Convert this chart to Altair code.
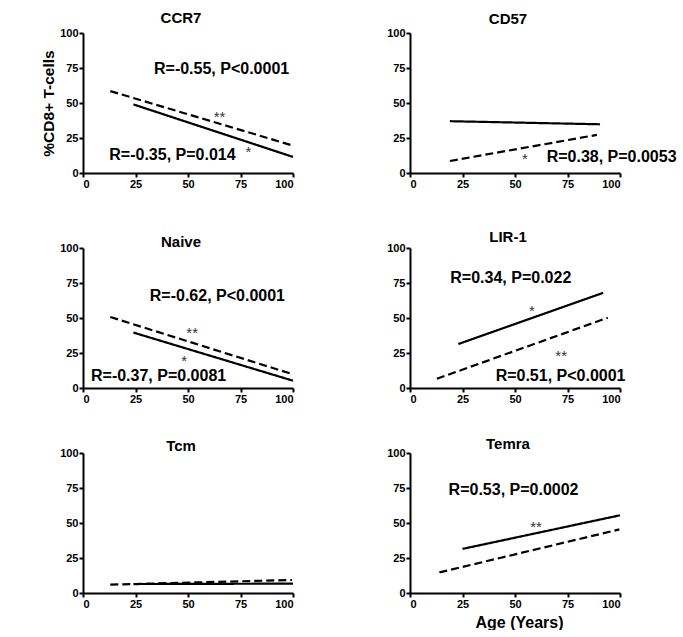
import altair as alt
import pandas as pd

FONT = "Liberation Sans"

# Panel names (in reading order)
panels = ["CCR7", "CD57", "Naive", "LIR-1", "Tcm", "Temra"]

# Regression line endpoints (Age in years, %CD8+ T-cells)
solid_x0 = [24, 19, 24, 23, 24, 25]
solid_y0 = [49, 37, 39.6, 31.4, 6.4, 31.5]
solid_x1 = [100, 90.5, 100, 92, 100, 100]
solid_y1 = [11.5, 34.8, 5.2, 68, 6.7, 55.5]

dash_x0 = [13, 19, 13, 12.8, 13, 14]
dash_y0 = [58.5, 8.6, 50.7, 6.6, 6, 14.7]
dash_x1 = [99, 89, 99.5, 94.2, 99.5, 99.7]
dash_y1 = [20, 27.2, 10, 50.2, 9.3, 45.4]

# Statistics annotations
stat_panel = ["CCR7", "CCR7", "CD57", "Naive", "Naive", "LIR-1", "LIR-1", "Temra"]
stat_text = ["R=-0.55, P<0.0001", "R=-0.35, P=0.014", "R=0.38, P=0.0053",
             "R=-0.62, P<0.0001", "R=-0.37, P=0.0081", "R=0.34, P=0.022",
             "R=0.51, P<0.0001", "R=0.53, P=0.0002"]
stat_x = [66, 42.6, 96, 64, 36, 48, 71.7, 49.3]
stat_y = [74, 13, 11.5, 65.5, 8.7, 78.7, 8.3, 73.6]

# Significance stars
star_panel = ["CCR7", "CCR7", "CD57", "Naive", "Naive", "LIR-1", "LIR-1", "Temra"]
star_text = ["**", "*", "*", "**", "*", "*", "**", "**"]
star_x = [65, 78.8, 54.7, 52, 48.2, 58, 72, 60]
star_y = [43, 17.7, 13, 42.5, 22.4, 57.8, 25.5, 50]

# Title offsets per panel
title_offset = [1, 0, -8, -3, -7, -5]

tick_vals = [0, 25, 50, 75, 100]
Y_TITLE = "%CD8+ T-cells"

rows = []
for i, p in enumerate(panels):
    rows.append(dict(panel=p, style="solid", age=solid_x0[i], pct=solid_y0[i]))
    rows.append(dict(panel=p, style="solid", age=solid_x1[i], pct=solid_y1[i]))
    rows.append(dict(panel=p, style="dashed", age=dash_x0[i], pct=dash_y0[i]))
    rows.append(dict(panel=p, style="dashed", age=dash_x1[i], pct=dash_y1[i]))
lines_df = pd.DataFrame(rows)
stats_df = pd.DataFrame(dict(panel=stat_panel, label=stat_text, age=stat_x, pct=stat_y))
stars_df = pd.DataFrame(dict(panel=star_panel, label=star_text, age=star_x, pct=star_y))

W, H = 210, 140


def make_panel(i):
    p = panels[i]
    xaxis_kw = dict(values=tick_vals)
    if p == "Temra":
        xaxis_kw.update(title="Age (Years)", titleFontSize=16, titlePadding=5, titleX=109)
    else:
        xaxis_kw.update(title="")
    yaxis_kw = dict(values=tick_vals)
    if i % 2 == 0:
        # left column: same title everywhere so the rows line up; shown only on CCR7
        yaxis_kw.update(title=Y_TITLE, titleFontSize=15.5, titlePadding=3,
                        titleOpacity=1 if p == "CCR7" else 0)
    else:
        yaxis_kw.update(title="")

    xenc = alt.X("age:Q", scale=alt.Scale(domain=[0, 100], nice=False), axis=alt.Axis(**xaxis_kw))
    yenc = alt.Y("pct:Q", scale=alt.Scale(domain=[0, 100], nice=False), axis=alt.Axis(**yaxis_kw))

    lines = alt.Chart(lines_df[lines_df.panel == p]).mark_line(color="black", strokeWidth=2.2).encode(
        x=xenc, y=yenc,
        detail="style:N",
        strokeDash=alt.StrokeDash("style:N", scale=alt.Scale(domain=["solid", "dashed"], range=[[1, 0], [8, 4]]), legend=None),
    )
    layers = [lines]
    sd = stats_df[stats_df.panel == p]
    if len(sd):
        layers.append(alt.Chart(sd).mark_text(font=FONT, fontSize=16, fontWeight="bold", color="black",
                                              align="center", baseline="middle").encode(
            x=xenc, y=yenc, text="label:N"))
    st = stars_df[stars_df.panel == p]
    if len(st):
        layers.append(alt.Chart(st).mark_text(font=FONT, fontSize=15, color="#333333",
                                              align="center", baseline="middle", dy=4).encode(
            x=xenc, y=yenc, text="label:N"))
    return alt.layer(*layers).properties(
        width=W, height=H,
        title=alt.TitleParams(text=p, font=FONT, fontSize=15, fontWeight="bold", color="black",
                              anchor="middle", offset=title_offset[i], dx=-7),
    )


ps = [make_panel(i) for i in range(6)]
row1 = alt.hconcat(ps[0], ps[1], spacing=117, bounds="flush")
row2 = alt.hconcat(ps[2], ps[3], spacing=117, bounds="flush")
row3 = alt.hconcat(ps[4], ps[5], spacing=117, bounds="flush")
inner = alt.vconcat(row2, row3, spacing=33)
chart = alt.vconcat(row1, inner, spacing=41).properties(
    padding={"left": 41, "top": 11, "right": 0, "bottom": 0},
    background="white",
).configure_view(stroke=None).configure_axis(
    grid=False, domainColor="black", domainWidth=2, tickColor="black", tickWidth=2, tickSize=4,
    labelFont=FONT, labelFontWeight="bold", labelFontSize=11, labelColor="black", labelPadding=1,
    labelOverlap=False,
    titleFont=FONT, titleFontWeight="bold", titleColor="black",
)

chart.save("out.html", embed_options={"renderer": "svg", "actions": False})
